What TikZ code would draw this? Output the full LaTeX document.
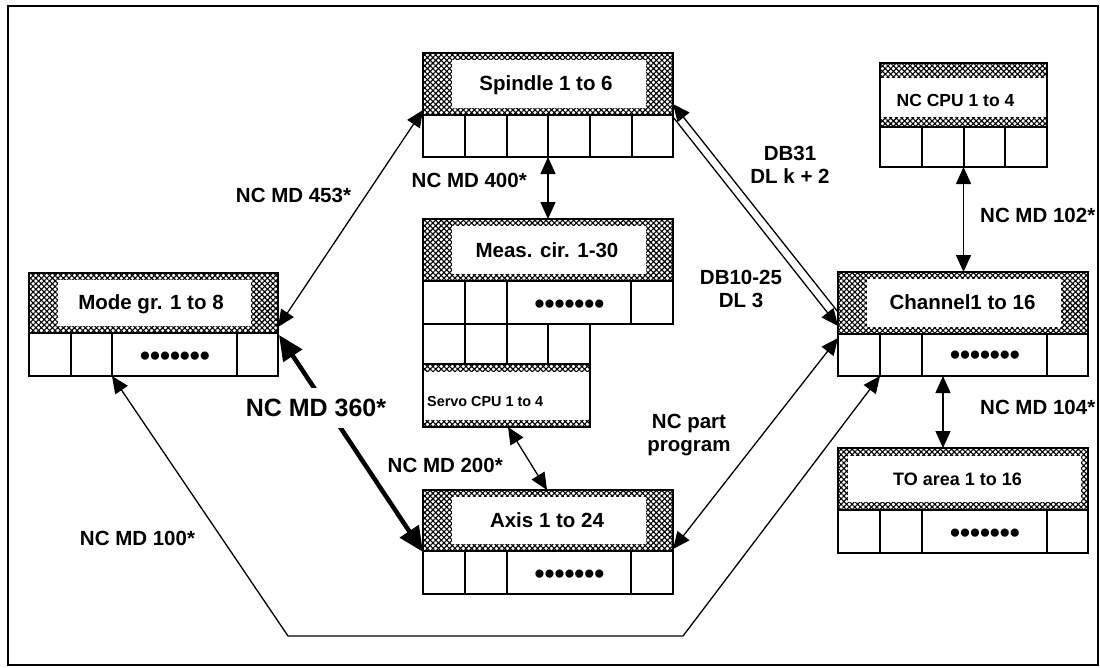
\documentclass[tikz,border=0pt]{standalone}
\usepackage{fontspec}
\setmainfont{Liberation Sans}
\usetikzlibrary{patterns.meta,arrows.meta}
\tikzset{
  sz/.style 2 args={minimum width=#1pt, minimum height=#2pt},
  hatch/.style={pattern={Hatch[angle=45,distance=3.9pt,line width=1.1pt]}, inner sep=0pt, outer sep=0pt},
  wbox/.style={fill=white, inner sep=0pt, outer sep=0pt},
  cellrow/.style={draw, line width=1.5pt, inner sep=0pt, outer sep=0pt},
  edge/.style={line width=1.5pt},
  bx/.style={font=\fontsize{20.5pt}{24pt}\selectfont\bfseries, text height=14.7pt, text depth=0pt, inner sep=0pt},
  lab/.style={font=\fontsize{20.5pt}{23pt}\selectfont\bfseries, text height=14.7pt, text depth=0pt, inner sep=0pt},
  mlab/.style={font=\fontsize{20.5pt}{23pt}\selectfont\bfseries, inner sep=0pt, align=center},
  biglab/.style={font=\fontsize{25pt}{28pt}\selectfont\bfseries, text height=17.9pt, text depth=0pt, inner xsep=2pt, inner ysep=11pt, fill=white},
  cpulab/.style={font=\fontsize{17.5pt}{20pt}\selectfont\bfseries, text height=12.5pt, text depth=0pt, inner sep=0pt},
  tolab/.style={font=\fontsize{18pt}{20pt}\selectfont\bfseries, text height=12.9pt, text depth=0pt, inner sep=0pt},
  servolab/.style={font=\fontsize{14.4pt}{17pt}\selectfont\bfseries, text height=10.3pt, text depth=0pt, inner sep=0pt},
  dotlab/.style={font=\fontsize{28.5pt}{30pt}\selectfont\bfseries, text height=0pt, text depth=0pt, inner sep=0pt},
  dbl/.style={line width=1.3pt, arrows={Triangle[length=17pt,width=15pt]-Triangle[length=17pt,width=15pt]}},
  one/.style={line width=1.3pt, arrows={-Triangle[length=17pt,width=15pt]}},
  thickdbl/.style={line width=4.5pt, arrows={Triangle[length=25pt,width=22pt]-Triangle[length=25pt,width=22pt]}}
}
\begin{document}
\begin{tikzpicture}[x=1pt,y=-1pt]
\useasboundingbox (0,0) rectangle (1100,667);
\draw[line width=1.5pt] (8,6) rectangle (1098,665);

% ---------- Mode group ----------
\node[hatch, sz={249}{60}] (moH) at (153.5,303) {};
\node[wbox, sz={193}{46}] (moW) at (154.5,303) {};
\draw[edge] (moH.north west) rectangle (moH.south east);
\node[bx] (moT) at (151,302) {Mode gr. 1 to 8};
\node[cellrow, sz={249}{43}] (moC) at (153.5,354.5) {};
\foreach \x in {71,112,237} \draw[edge] (\x,333) -- (\x,376);
\node[dotlab] (moD) at (175,365) {•••••••};

% ---------- Spindle ----------
\node[hatch, sz={250}{62}] (spH) at (548,84) {};
\node[wbox, sz={194}{48}] (spW) at (549,84) {};
\draw[edge] (spH.north west) rectangle (spH.south east);
\node[bx] (spT) at (546,83) {Spindle 1 to 6};
\node[cellrow, sz={250}{42}] (spC) at (548,136) {};
\foreach \x in {465,507,548,590,632} \draw[edge] (\x,115) -- (\x,157);

% ---------- Measuring circuit ----------
\node[hatch, sz={250}{62}] (meH) at (548,250) {};
\node[wbox, sz={194}{48}] (meW) at (549,250) {};
\draw[edge] (meH.north west) rectangle (meH.south east);
\node[bx] (meT) at (547,250) {Meas. cir. 1-30};
\node[cellrow, sz={250}{43}] (meC) at (548,302.5) {};
\foreach \x in {465,507,631} \draw[edge] (\x,281) -- (\x,324);
\node[dotlab] (meD) at (569.5,313) {•••••••};
\node[cellrow, sz={167}{40}] (meC2) at (506.5,344) {};
\foreach \x in {465,507,548} \draw[edge] (\x,324) -- (\x,364);

% ---------- Servo CPU ----------
\node[hatch, sz={167}{63}] (svH) at (506.5,395.5) {};
\node[wbox, sz={167}{48}] (svW) at (506.5,396) {};
\draw[edge] (svH.north west) rectangle (svH.south east);
\node[servolab, anchor=west] (svT) at (427,401) {Servo CPU 1 to 4};

% ---------- Axis ----------
\node[hatch, sz={250}{61}] (axH) at (548,520.5) {};
\node[wbox, sz={194}{47}] (axW) at (549,520.5) {};
\draw[edge] (axH.north west) rectangle (axH.south east);
\node[bx] (axT) at (547,520) {Axis 1 to 24};
\node[cellrow, sz={250}{43}] (axC) at (548,572.5) {};
\foreach \x in {465,507,631} \draw[edge] (\x,551) -- (\x,594);
\node[dotlab] (axD) at (569.5,583) {•••••••};

% ---------- NC CPU ----------
\node[hatch, sz={167}{64}] (cpH) at (963.5,95) {};
\node[wbox, sz={167}{39}] (cpW) at (963.5,97.5) {};
\draw[edge] (cpH.north west) rectangle (cpH.south east);
\node[cpulab] (cpT) at (955.5,100) {NC CPU 1 to 4};
\node[cellrow, sz={167}{40}] (cpC) at (963.5,147) {};
\foreach \x in {922,964,1005} \draw[edge] (\x,127) -- (\x,167);

% ---------- Channel ----------
\node[hatch, sz={250}{62}] (chH) at (963,303) {};
\node[wbox, sz={194}{48}] (chW) at (964,303) {};
\draw[edge] (chH.north west) rectangle (chH.south east);
\node[bx] (chT) at (962.5,302) {Channel1 to 16};
\node[cellrow, sz={250}{42}] (chC) at (963,355) {};
\foreach \x in {880,922,1047} \draw[edge] (\x,334) -- (\x,376);
\node[dotlab] (chD) at (985,364) {•••••••};

% ---------- TO area ----------
\node[hatch, sz={250}{62}] (toH) at (963,479) {};
\node[wbox, sz={233}{46}] (toW) at (964.5,479) {};
\draw[edge] (toH.north west) rectangle (toH.south east);
\node[tolab] (toT) at (957.5,479) {TO area 1 to 16};
\node[cellrow, sz={250}{43}] (toC) at (963,531.5) {};
\foreach \x in {880,922,1047} \draw[edge] (\x,510) -- (\x,553);
\node[dotlab] (toD) at (985,542) {•••••••};

% ---------- connector end points ----------
\coordinate (m453) at (278,327);
\coordinate (s453) at (423,110);
\coordinate (m360) at (279,335);
\coordinate (a360) at (423,552);
\coordinate (m100) at (112,376);
\coordinate (b100a) at (288,636);
\coordinate (b100b) at (683,636);
\coordinate (c100) at (880,376);
\coordinate (cNC) at (838,338);
\coordinate (aNC) at (673,549);
\coordinate (c31) at (838,312);
\coordinate (s31) at (673,104);
\coordinate (s25) at (673,117);
\coordinate (c25) at (838,326);
\coordinate (sv200) at (508,427);
\coordinate (ax200) at (547,490);
\coordinate (ch104) at (943,376);
\coordinate (to104) at (943,448);

% ---------- connectors ----------
\draw[dbl] (m453) -- (s453);
\draw[thickdbl] (m360) -- (a360);
\draw[dbl] (m100) -- (b100a) -- (b100b) -- (c100);
\draw[dbl] (cNC) -- (aNC);
\draw[one] (c31) -- (s31);
\draw[one] (s25) -- (c25);
\draw[dbl] (spC.south) -- (meH.north);
\draw[dbl] (sv200) -- (ax200);
\draw[dbl] (cpC.south) -- (cpC.south |- chH.north);
\draw[dbl] (ch104) -- (to104);

% ---------- labels ----------
\node[lab] (l453) at (293.5,195) {NC MD 453*};
\node[lab, anchor=east] (l400) at (527,180) {NC MD 400*};
\node[lab, anchor=east] (l200) at (503,465) {NC MD 200*};
\node[mlab] (l31) at (790,165) {DB31\\DL k + 2};
\node[mlab] (l25) at (741,289) {DB10-25\\DL 3};
\node[mlab] (lpp) at (689,435.5) {NC part\\program};
\node[lab] (l100) at (137.5,538) {NC MD 100*};
\node[lab, anchor=west] (l102) at (980,215) {NC MD 102*};
\node[lab, anchor=west] (l104) at (980,407) {NC MD 104*};
\node[biglab] (l360) at (316,408) {NC MD 360*};
\end{tikzpicture}
\end{document}
